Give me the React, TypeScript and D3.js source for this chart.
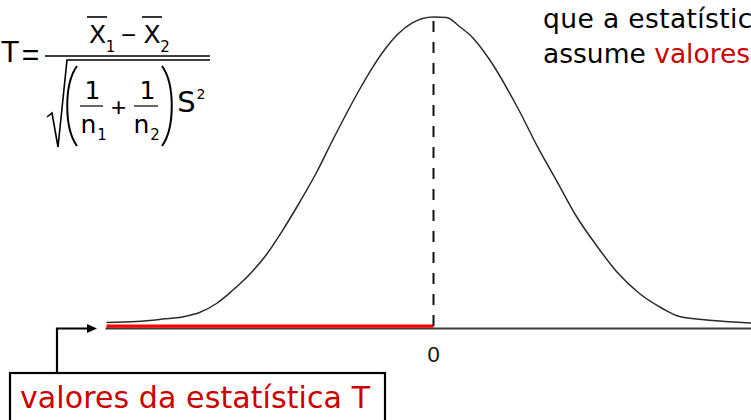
import React from "react";
import * as d3 from "d3";

// Sampling distribution of T under H0 (density read at selected t values)
const tValues = [
  -3.27, -2.97, -2.74, -2.49, -2.34, -2.17, -2.01, -1.84, -1.67, -1.51,
  -1.34, -1.17, -1.01, -0.87, -0.74, -0.61, -0.48, -0.35, -0.22, -0.11,
  0, 0.13, 0.26, 0.39, 0.56, 0.84, 1.06, 1.23, 1.43, 1.63,
  1.83, 2.06, 2.29, 2.46, 2.79, 3.16, 3.4,
];
const density = [
  0.0077, 0.0090, 0.0116, 0.0154, 0.0205, 0.0321, 0.0488, 0.0693, 0.0950, 0.1258,
  0.1618, 0.2003, 0.2414, 0.2761, 0.3069, 0.3351, 0.3595, 0.3788, 0.3917, 0.3981,
  0.4000, 0.3994, 0.3878, 0.3737, 0.3454, 0.2838, 0.2286, 0.1900, 0.1438, 0.1066,
  0.0732, 0.0449, 0.0257, 0.0154, 0.0103, 0.0071, 0.0058,
];
const tickValues = [0];
const tickLabels = ["0"];
const highlightRange = [-3.27, 0];
const axisRange = [-3.28, 3.4];

const W = 751;
const H = 420;
const FONT = "'DejaVu Sans', sans-serif";
const SYM = "'Liberation Sans', Arial, sans-serif";
const RED_TEXT = "#cc0000";

export default function App() {
  const x = d3.scaleLinear().domain([-3.3, 3.4]).range([103.5, 773.5]);
  const y = d3.scaleLinear().domain([0, 0.4]).range([328.5, 17]);

  const points: [number, number][] = tValues.map((t, i) => [t, density[i]]);
  const line = d3
    .line<[number, number]>()
    .x((d) => x(d[0]))
    .y((d) => y(d[1]))
    .curve(d3.curveMonotoneX);

  const base = y(0);

  return (
    <svg
      width={W}
      height={H}
      style={{ position: "absolute", left: 0, top: 0, background: "#fff" }}
    >
      <rect x={0} y={0} width={W} height={H} fill="#fff" />

      {/* horizontal axis */}
      <line
        x1={x(axisRange[0])}
        x2={x(axisRange[1])}
        y1={base}
        y2={base}
        stroke="#3a3a3a"
        strokeWidth={2}
      />
      {/* values of T below zero */}
      <line
        x1={x(highlightRange[0])}
        x2={x(highlightRange[1])}
        y1={base - 2.3}
        y2={base - 2.3}
        stroke="#ff0000"
        strokeWidth={3.2}
      />
      {/* centre line */}
      <line
        x1={x(0)}
        x2={x(0)}
        y1={y(0.4) + 4}
        y2={base}
        stroke="#111"
        strokeWidth={2}
        strokeDasharray="11,10"
      />
      {/* density curve */}
      <path d={line(points) ?? ""} fill="none" stroke="#2a2a2a" strokeWidth={1.5} />

      {tickValues.map((v, i) => (
        <text
          key={v}
          x={x(v)}
          y={362}
          textAnchor="middle"
          fontFamily={SYM}
          fontSize={22}
          fill="#111"
        >
          {tickLabels[i]}
        </text>
      ))}

      {/* formula of the statistic */}
      <g fontFamily={FONT} fill="#000">
        <text x={10} y={62} textAnchor="middle" fontSize={28}>T</text>
        <text x={30.5} y={65} textAnchor="middle" fontSize={30} fontFamily={SYM}>=</text>

        <line x1={87} x2={107} y1={17} y2={17} stroke="#000" strokeWidth={1.6} />
        <text x={97.5} y={43} textAnchor="middle" fontSize={25}>X</text>
        <text x={110.5} y={52} textAnchor="middle" fontSize={15}>1</text>
        <text x={128.5} y={44} textAnchor="middle" fontSize={26} fontFamily={SYM}>−</text>
        <line x1={142} x2={162} y1={17} y2={17} stroke="#000" strokeWidth={1.6} />
        <text x={152} y={43} textAnchor="middle" fontSize={25}>X</text>
        <text x={165} y={52} textAnchor="middle" fontSize={15}>2</text>

        <line x1={45} x2={210} y1={56} y2={56} stroke="#000" strokeWidth={1.5} />
        <path
          d="M47,117 L52,113 L58,147 L67,60 H210"
          fill="none"
          stroke="#000"
          strokeWidth={1.6}
        />

        <path d="M77,66 C64,84 64,128 77,146" fill="none" stroke="#000" strokeWidth={2} />
        <path d="M162,66 C175,84 175,128 162,146" fill="none" stroke="#000" strokeWidth={2} />

        <text x={92.5} y={99} textAnchor="middle" fontSize={25}>1</text>
        <line x1={80} x2={103} y1={106} y2={106} stroke="#000" strokeWidth={1.2} />
        <text x={88.5} y={133} textAnchor="middle" fontSize={25}>n</text>
        <text x={102} y={140} textAnchor="middle" fontSize={15}>1</text>

        <text x={118.5} y={116} textAnchor="middle" fontSize={26} fontFamily={SYM}>+</text>

        <text x={147.5} y={99} textAnchor="middle" fontSize={25}>1</text>
        <line x1={134} x2={158} y1={106} y2={106} stroke="#000" strokeWidth={1.2} />
        <text x={141.5} y={133} textAnchor="middle" fontSize={25}>n</text>
        <text x={155} y={140} textAnchor="middle" fontSize={15}>2</text>

        <text x={186.5} y={112} textAnchor="middle" fontSize={29}>S</text>
        <text x={201} y={99} textAnchor="middle" fontSize={14}>2</text>
      </g>

      {/* note at top right */}
      <g fontFamily={FONT} fontSize={26.5} fill="#000">
        <text x={543} y={28} textLength={226} lengthAdjust="spacing">que a estatística</text>
        <text x={543} y={63}>
          assume <tspan fill={RED_TEXT}>valores</tspan>
        </text>
      </g>

      {/* callout pointing at the axis */}
      <path
        d={`M57,373 V${base} H89`}
        fill="none"
        stroke="#000"
        strokeWidth={2.2}
      />
      <path d={`M97,${base} L87,${base - 4.5} L87,${base + 4.5} Z`} fill="#000" />
      <rect x={10} y={373} width={375} height={60} fill="#fff" stroke="#000" strokeWidth={2.2} />
      <text x={20} y={408} fontFamily={FONT} fontSize={30} fill={RED_TEXT} textLength={350} lengthAdjust="spacing">
        valores da estatística T
      </text>
    </svg>
  );
}
